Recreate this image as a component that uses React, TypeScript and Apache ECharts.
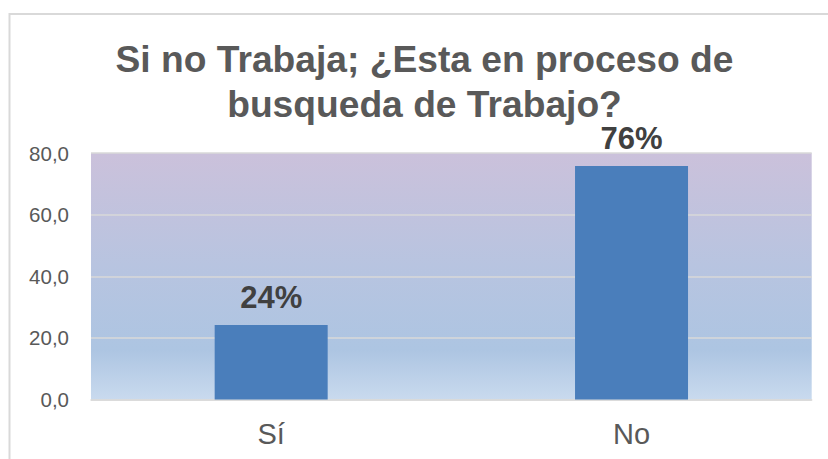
import React, { useEffect, useRef } from "react";
import * as echarts from "echarts";

const categories = ["Sí", "No"];
const values = [24.2, 75.8];
const yTicks = { min: 0, max: 80, interval: 20 };
const titleText = "Si no Trabaja; ¿Esta en proceso de\nbusqueda de Trabajo?";

const FONT = "'Liberation Sans', Arial, sans-serif";

export default function App() {
  const ref = useRef<HTMLDivElement>(null);
  useEffect(() => {
    if (!ref.current) return;
    const chart = echarts.init(ref.current, undefined, { renderer: "svg" });
    chart.setOption({
      animation: false,
      backgroundColor: "#ffffff",
      textStyle: { fontFamily: FONT },
      title: {
        text: titleText,
        left: 419.5,
        top: 31,
        textAlign: "center",
        textStyle: {
          fontFamily: FONT,
          fontSize: 37.2,
          fontWeight: "bold",
          color: "#595959",
          lineHeight: 45,
        },
      },
      graphic: [
        {
          type: "rect",
          shape: { x: 9.5, y: 14, width: 900, height: 600 },
          style: { fill: "none", stroke: "#d9d9d9", lineWidth: 2 },
          silent: true,
          z: -1,
        },
      ],
      grid: {
        left: 91,
        top: 153,
        right: 16.3,
        bottom: 59.5,
        show: true,
        borderWidth: 0,
        backgroundColor: {
          type: "linear",
          x: 0,
          y: 0,
          x2: 0,
          y2: 1,
          colorStops: [
            { offset: 0, color: "#cbc1db" },
            { offset: 0.45, color: "#b8c4e0" },
            { offset: 0.8, color: "#adc5e2" },
            { offset: 1, color: "#c9daee" },
          ],
        },
      },
      xAxis: {
        type: "category",
        data: categories,
        axisLine: { show: true, lineStyle: { color: "#d9d9d9", width: 1.5 } },
        axisTick: { show: false },
        axisLabel: {
          fontFamily: FONT,
          fontSize: 29,
          color: "#595959",
          margin: 20,
        },
      },
      yAxis: {
        type: "value",
        min: yTicks.min,
        max: yTicks.max,
        interval: yTicks.interval,
        axisLine: { show: false },
        axisTick: { show: false },
        splitLine: { show: true, lineStyle: { color: "#d9d9d9", width: 1.5 } },
        axisLabel: {
          fontFamily: FONT,
          fontSize: 20.5,
          color: "#595959",
          margin: 22,
          formatter: (v: number) => v.toFixed(1).replace(".", ","),
        },
      },
      series: [
        {
          type: "bar",
          data: values,
          barWidth: 113,
          itemStyle: { color: "#4a7ebb" },
          label: {
            show: true,
            position: "top",
            distance: 12,
            fontFamily: FONT,
            fontSize: 31,
            fontWeight: "bold",
            color: "#404040",
            formatter: (p: any) => Math.round(p.value) + "%",
          },
        },
      ],
    });
    return () => chart.dispose();
  }, []);
  return (
    <div
      ref={ref}
      style={{ position: "fixed", left: 0, top: 0, width: 828, height: 459 }}
    />
  );
}
